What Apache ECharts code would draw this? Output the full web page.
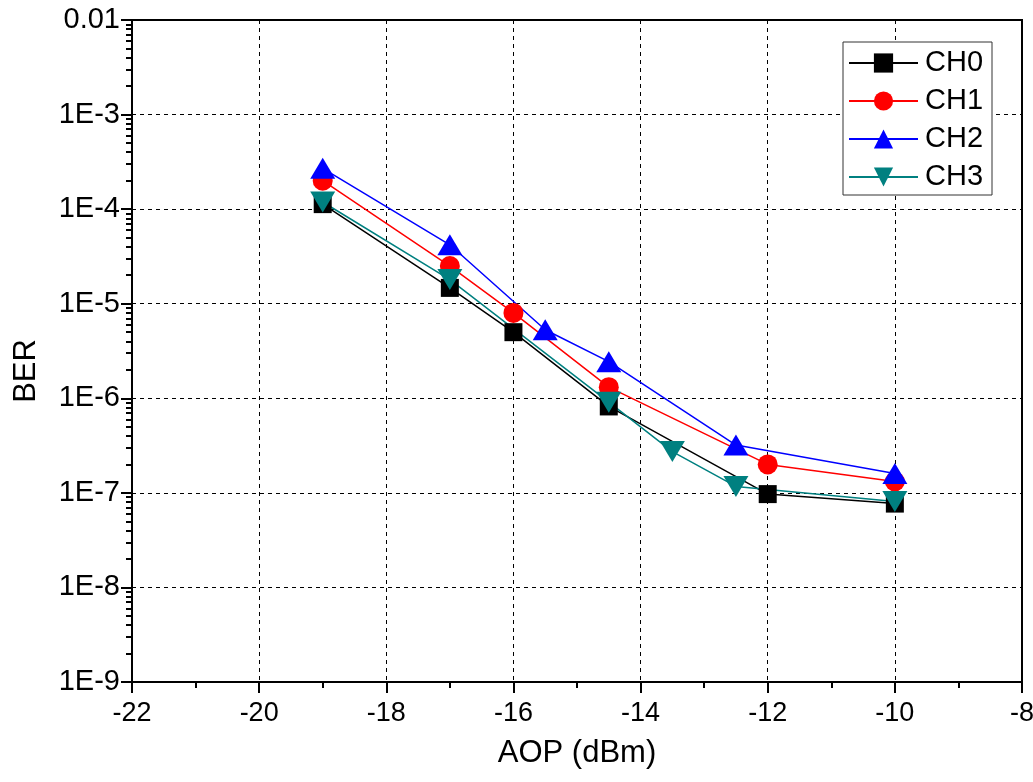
<!DOCTYPE html>
<html>
<head>
<meta charset="utf-8">
<script src="https://cdn.jsdelivr.net/npm/echarts@6/dist/echarts.min.js"></script>
<style>
html,body{margin:0;padding:0;background:#fff;}
#chart{width:1033px;height:782px;}
</style>
</head>
<body>
<div id="chart"></div>
<script>
// ---- data ----
const seriesNames = ['CH0', 'CH1', 'CH2', 'CH3'];
const ch0X = [-19, -17, -16, -14.5, -12, -10];
const ch0Y = [1.13e-4, 1.47e-5, 5.0e-6, 8.2e-7, 9.7e-8, 7.7e-8];
const ch1X = [-19, -17, -16, -14.5, -12, -10];
const ch1Y = [2.0e-4, 2.5e-5, 8.0e-6, 1.31e-6, 2.0e-7, 1.32e-7];
const ch2X = [-19, -17, -15.5, -14.5, -12.5, -10];
const ch2Y = [2.7e-4, 4.2e-5, 5.3e-6, 2.44e-6, 3.2e-7, 1.6e-7];
const ch3X = [-19, -17, -14.5, -13.5, -12.5, -10];
const ch3Y = [1.19e-4, 1.8e-5, 9.1e-7, 2.73e-7, 1.17e-7, 8.1e-8];
const yTickValues = [1e-9, 1e-8, 1e-7, 1e-6, 1e-5, 1e-4, 1e-3, 1e-2];
const yTickLabels = ['1E-9', '1E-8', '1E-7', '1E-6', '1E-5', '1E-4', '1E-3', '0.01'];
const xTitle = 'AOP (dBm)';
const yTitle = 'BER';

// minor tick positions for the log axis (2..9 x 10^n), expressed as exponents
const yMinorExp = [];
for (let e = -9; e < -2; e++) {
  for (let m = 2; m <= 9; m++) yMinorExp.push(e + Math.log10(m));
}

function pairs(xs, ys) { return xs.map((x, i) => [x, ys[i]]); }

const FONT = '"Liberation Sans", Arial, sans-serif';
const colors = ['#000000', '#ff0000', '#0000ff', '#008080'];
const symbols = ['rect', 'circle', 'triangle', 'path://M0,0 L10,0 L5,10 Z'];
const symbolSizes = [18, 20, [25, 21], [25, 21]];
const datas = [pairs(ch0X, ch0Y), pairs(ch1X, ch1Y), pairs(ch2X, ch2Y), pairs(ch3X, ch3Y)];

const chart = echarts.init(document.getElementById('chart'), null, {renderer: 'canvas'});
chart.setOption({
  animation: false,
  backgroundColor: '#fff',
  grid: {left: 132, right: 11, top: 20, bottom: 100, show: true, borderColor: '#000', borderWidth: 2,
         containLabel: false, outerBoundsMode: 'none'},
  legend: {
    orient: 'vertical', left: 843, top: 42,
    backgroundColor: '#fff', borderColor: '#333', borderWidth: 1,
    padding: [6, 9, 3, 5], itemGap: 8, itemWidth: 69, itemHeight: 24,
    textStyle: {fontFamily: FONT, fontSize: 29, color: '#000', lineHeight: 30, padding: [0, 0, 0, 2]},
    data: seriesNames
  },
  xAxis: {
    type: 'value', min: -22, max: -8, interval: 2,
    name: xTitle, nameLocation: 'middle', nameGap: 56,
    nameTextStyle: {fontFamily: FONT, fontSize: 31, color: '#000'},
    axisLine: {show: true, onZero: false, lineStyle: {color: '#000', width: 2}},
    axisTick: {show: true, inside: false, length: 11, lineStyle: {color: '#000', width: 2}},
    minorTick: {show: true, splitNumber: 2, length: 6, lineStyle: {color: '#000', width: 2}},
    axisLabel: {fontFamily: FONT, fontSize: 27, color: '#000', margin: 18},
    splitLine: {show: true, lineStyle: {color: '#000', width: 1, type: [4, 4]}},
    minorSplitLine: {show: false}
  },
  yAxis: [{
    type: 'log', logBase: 10, min: 1e-9, max: 1e-2, interval: 1,
    name: yTitle, nameLocation: 'middle', nameGap: 90, nameRotate: 90,
    nameTextStyle: {fontFamily: FONT, fontSize: 31, color: '#000', padding: [0, 40, 0, 0]},
    axisLine: {show: true, onZero: false, lineStyle: {color: '#000', width: 2}},
    axisTick: {show: true, inside: false, length: 11, lineStyle: {color: '#000', width: 2}},
    axisLabel: {
      fontFamily: FONT, fontSize: 29, color: '#000', margin: 12,
      formatter: function (v) {
        const e = Math.round(Math.log10(v));
        const idx = yTickValues.findIndex(t => Math.round(Math.log10(t)) === e);
        return idx >= 0 ? yTickLabels[idx] : '';
      }
    },
    splitLine: {show: true, lineStyle: {color: '#000', width: 1, type: [4, 4]}}
  }, {
    // hidden linear axis in exponent space, only used to draw log minor ticks
    type: 'value', min: -9, max: -2, position: 'left',
    axisLine: {show: false, onZero: false},
    axisLabel: {show: false},
    splitLine: {show: false},
    axisTick: {show: true, inside: false, length: 6, customValues: yMinorExp, lineStyle: {color: '#000', width: 2}}
  }],
  series: seriesNames.map((n, i) => ({
    name: n, type: 'line', yAxisIndex: 0,
    data: datas[i],
    symbol: symbols[i], symbolSize: symbolSizes[i],
    showAllSymbol: true,
    itemStyle: {color: colors[i]},
    lineStyle: {color: colors[i], width: 1.5},
    emphasis: {disabled: true}
  }))
});
</script>
</body>
</html>
